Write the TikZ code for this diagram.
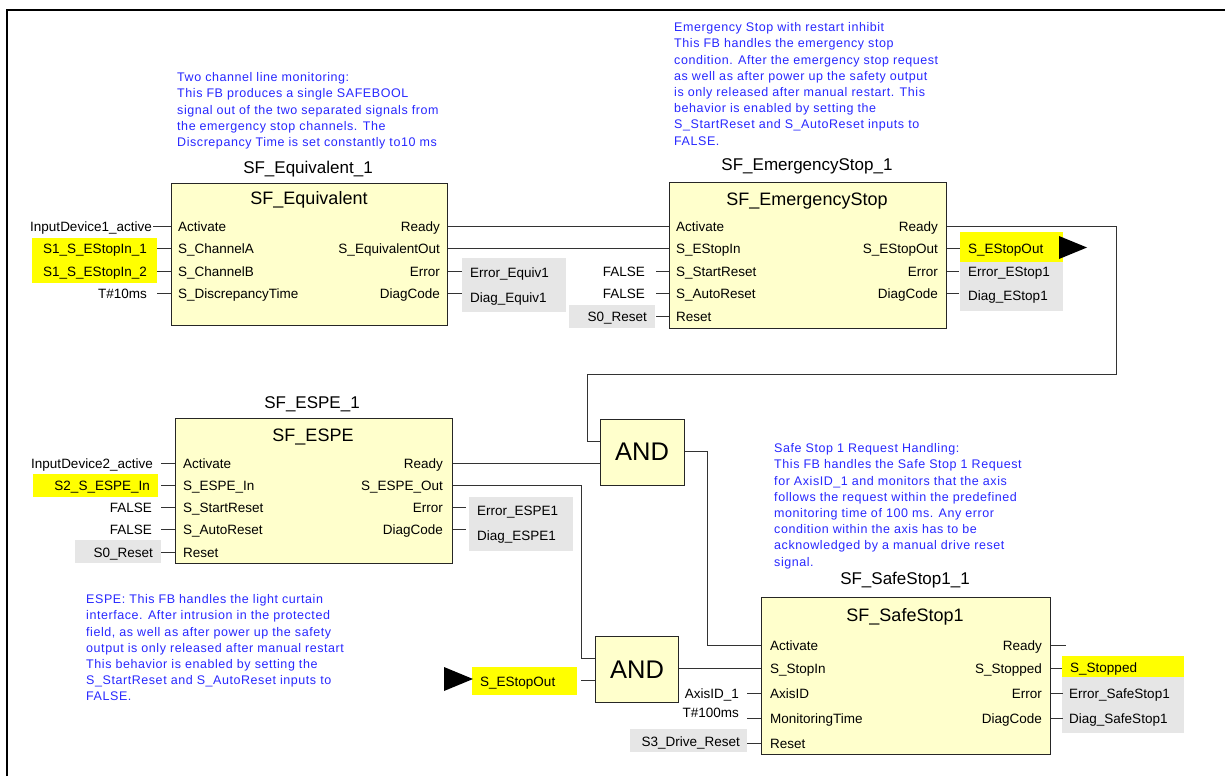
\documentclass[tikz,border=0pt]{standalone}
\usepackage{fontspec}
\setmainfont{Liberation Sans}
\newfontfamily\cmtfont[LetterSpace=4.5]{Liberation Sans}
\definecolor{fbfill}{HTML}{FFFFCC}
\definecolor{hiyel}{HTML}{FFFF00}
\definecolor{higray}{HTML}{E6E6E6}
\definecolor{cmtblue}{RGB}{40,40,255}
\definecolor{wirec}{HTML}{333333}
\tikzset{
  fbbox/.style={draw=black!85, fill=fbfill, line width=1.3pt, inner sep=0pt, anchor=north west},
  ybox/.style={fill=hiyel, inner sep=0pt, anchor=north west},
  gbox/.style={fill=higray, inner sep=0pt, anchor=north west},
  wire/.style={draw=wirec, line width=1pt},
  frame/.style={draw=black, line width=2.4pt},
  pinl/.style={font=\fontsize{13.5}{16}\selectfont, inner sep=0pt, anchor=base west},
  pinr/.style={font=\fontsize{13.5}{16}\selectfont, inner sep=0pt, anchor=base east},
  title/.style={font=\fontsize{18}{20}\selectfont, inner sep=0pt, anchor=base},
  inst/.style={font=\fontsize{17}{20}\selectfont, inner sep=0pt, anchor=base},
  andtxt/.style={font=\fontsize{25.5}{28}\selectfont, inner sep=0pt, anchor=base},
  cmt/.style={font=\cmtfont\fontsize{12.5}{16.2}\selectfont, text=cmtblue, align=left, inner sep=0pt, anchor=north west},
  tri/.style={fill=black}
}
\begin{document}
\begin{tikzpicture}[x=1pt,y=-1pt]
\useasboundingbox (0,0) rectangle (1225,776);
% frame
\draw[frame] (7,776) -- (7,10) -- (1225,10);

% comments
\node[cmt] (c1) at (177,72.4) {Two channel line monitoring:\\This FB produces a single SAFEBOOL\\signal out of the two separated signals from\\the emergency stop channels. The\\Discrepancy Time is set constantly to10 ms};
\node[cmt] (c2) at (674,22.4) {Emergency Stop with restart inhibit\\This FB handles the emergency stop\\condition. After the emergency stop request\\as well as after power up the safety output\\is only released after manual restart. This\\behavior is enabled by setting the\\S\_StartReset and S\_AutoReset inputs to\\FALSE.};
\node[cmt] (c3) at (86,594.4) {ESPE: This FB handles the light curtain\\interface. After intrusion in the protected\\field, as well as after power up the safety\\output is only released after manual restart\\This behavior is enabled by setting the\\S\_StartReset and S\_AutoReset inputs to\\FALSE.};
\node[cmt] (c4) at (774,443.4) {Safe Stop 1 Request Handling:\\This FB handles the Safe Stop 1 Request\\for AxisID\_1 and monitors that the axis\\follows the request within the predefined\\monitoring time of 100 ms. Any error\\condition within the axis has to be\\acknowledged by a manual drive reset\\signal.};

% highlight boxes
\node[ybox, minimum width=125pt, minimum height=45pt] (y1) at (32,238) {};
\node[ybox, minimum width=125pt, minimum height=23pt] (y2) at (33,474) {};
\node[ybox, minimum width=103pt, minimum height=30pt] (y3) at (960,232) {};
\node[ybox, minimum width=105pt, minimum height=28pt] (y4) at (472,667) {};
\node[ybox, minimum width=122pt, minimum height=21pt] (y5) at (1062,656) {};
\node[gbox, minimum width=104pt, minimum height=54pt] (g1) at (462,258) {};
\node[gbox, minimum width=86pt, minimum height=23pt] (g2) at (569,305) {};
\node[gbox, minimum width=103pt, minimum height=49pt] (g3) at (960,262) {};
\node[gbox, minimum width=86pt, minimum height=23pt] (g4) at (75,540) {};
\node[gbox, minimum width=104pt, minimum height=54pt] (g5) at (469,497) {};
\node[gbox, minimum width=117pt, minimum height=23pt] (g6) at (630,729) {};
\node[gbox, minimum width=122pt, minimum height=56pt] (g7) at (1062,677) {};

% function blocks
\node[fbbox, minimum width=276pt, minimum height=142pt] (eq) at (171,183) {};
\node[fbbox, minimum width=277pt, minimum height=146pt] (es) at (669,182) {};
\node[fbbox, minimum width=277pt, minimum height=145pt] (espe) at (175,418) {};
\node[fbbox, minimum width=289pt, minimum height=157pt] (ss) at (761,597) {};
\node[fbbox, minimum width=84pt, minimum height=66pt] (and1) at (600,419) {};
\node[fbbox, minimum width=83pt, minimum height=66pt] (and2) at (595,636) {};
\node[andtxt] (and1t) at (642,460) {AND};
\node[andtxt] (and2t) at (637,678) {AND};

% instance names and titles
\node[inst] (eqi) at (308,173) {SF\_Equivalent\_1};
\node[inst] (esi) at (807,170) {SF\_EmergencyStop\_1};
\node[inst] (espei) at (312,408) {SF\_ESPE\_1};
\node[inst] (ssi) at (905,584) {SF\_SafeStop1\_1};
\node[title] (eqt) at (309,204.5) {SF\_Equivalent};
\node[title] (est) at (807,205.5) {SF\_EmergencyStop};
\node[title] (espet) at (313,441.5) {SF\_ESPE};
\node[title] (sst) at (905,621.5) {SF\_SafeStop1};

% SF_Equivalent pins
\node[pinl] (eqp1) at (178,231) {Activate};
\node[pinl] (eqp2) at (178,253.5) {S\_ChannelA};
\node[pinl] (eqp3) at (178,276) {S\_ChannelB};
\node[pinl] (eqp4) at (178,298) {S\_DiscrepancyTime};
\node[pinr] (eqo1) at (440,231) {Ready};
\node[pinr] (eqo2) at (440,253.5) {S\_EquivalentOut};
\node[pinr] (eqo3) at (440,276) {Error};
\node[pinr] (eqo4) at (440,298) {DiagCode};
\node[pinr] (eqv1) at (152,231) {InputDevice1\_active};
\node[pinr] (eqv2) at (147,253.5) {S1\_S\_EStopIn\_1};
\node[pinr] (eqv3) at (147,276) {S1\_S\_EStopIn\_2};
\node[pinr] (eqv4) at (147,298) {T\#10ms};
\node[pinl] (eqv5) at (470,277) {Error\_Equiv1};
\node[pinl] (eqv6) at (470,302) {Diag\_Equiv1};
\draw[wire] (eq.west |- 0,226) -- ++(-18,0);
\draw[wire] (eq.west |- 0,248.5) -- ++(-14,0);
\draw[wire] (eq.west |- 0,271) -- ++(-14,0);
\draw[wire] (eq.west |- 0,293) -- ++(-14,0);
\draw[wire] (eq.east |- 0,271) -- ++(14,0);
\draw[wire] (eq.east |- 0,293) -- ++(14,0);

% SF_EmergencyStop pins
\node[pinl] (esp1) at (676,231) {Activate};
\node[pinl] (esp2) at (676,253.5) {S\_EStopIn};
\node[pinl] (esp3) at (676,276) {S\_StartReset};
\node[pinl] (esp4) at (676,298.5) {S\_AutoReset};
\node[pinl] (esp5) at (676,321) {Reset};
\node[pinr] (eso1) at (938,231) {Ready};
\node[pinr] (eso2) at (938,253.5) {S\_EStopOut};
\node[pinr] (eso3) at (938,276) {Error};
\node[pinr] (eso4) at (938,298.5) {DiagCode};
\node[pinr] (esv3) at (645,276) {FALSE};
\node[pinr] (esv4) at (645,298.5) {FALSE};
\node[pinr] (esv5) at (647,321) {S0\_Reset};
\node[pinl] (esv6) at (968,253) {S\_EStopOut};
\node[pinl] (esv7) at (968,276) {Error\_EStop1};
\node[pinl] (esv8) at (968,300) {Diag\_EStop1};
\draw[wire] (es.west |- 0,271) -- ++(-13,0);
\draw[wire] (es.west |- 0,293.5) -- ++(-13,0);
\draw[wire] (es.west |- 0,316) -- ++(-13,0);
\draw[wire] (es.east |- 0,248.5) -- (y3.west |- 0,248.5);
\draw[wire] (es.east |- 0,271) -- ++(12,0);
\draw[wire] (es.east |- 0,293.5) -- ++(12,0);
\fill[tri] (1059,236) -- (1087,247.5) -- (1059,259) -- cycle;

% connections SF_Equivalent -> SF_EmergencyStop
\draw[wire] (eq.east |- 0,226) -- (es.west |- 0,226);
\draw[wire] (eq.east |- 0,248.5) -- (es.west |- 0,248.5);

% SF_ESPE pins
\node[pinl] (ep1) at (183,468) {Activate};
\node[pinl] (ep2) at (183,490) {S\_ESPE\_In};
\node[pinl] (ep3) at (183,512) {S\_StartReset};
\node[pinl] (ep4) at (183,534) {S\_AutoReset};
\node[pinl] (ep5) at (183,557) {Reset};
\node[pinr] (eo1) at (443,468) {Ready};
\node[pinr] (eo2) at (443,490) {S\_ESPE\_Out};
\node[pinr] (eo3) at (443,512) {Error};
\node[pinr] (eo4) at (443,534) {DiagCode};
\node[pinr] (ev1) at (153,468) {InputDevice2\_active};
\node[pinr] (ev2) at (150,490) {S2\_S\_ESPE\_In};
\node[pinr] (ev3) at (152,512) {FALSE};
\node[pinr] (ev4) at (152,534) {FALSE};
\node[pinr] (ev5) at (153,557) {S0\_Reset};
\node[pinl] (ev6) at (477,515) {Error\_ESPE1};
\node[pinl] (ev7) at (477,540) {Diag\_ESPE1};
\foreach \yy in {463,485,507,529,552} {\draw[wire] (espe.west |- 0,\yy) -- ++(-14,0);}
\draw[wire] (espe.east |- 0,507) -- ++(13,0);
\draw[wire] (espe.east |- 0,529) -- ++(13,0);

% SF_SafeStop1 pins
\node[pinl] (sp1) at (770,650) {Activate};
\node[pinl] (sp2) at (770,673) {S\_StopIn};
\node[pinl] (sp3) at (770,698) {AxisID};
\node[pinl] (sp4) at (770,723) {MonitoringTime};
\node[pinl] (sp5) at (770,748) {Reset};
\node[pinr] (so1) at (1042,650) {Ready};
\node[pinr] (so2) at (1042,673) {S\_Stopped};
\node[pinr] (so3) at (1042,698) {Error};
\node[pinr] (so4) at (1042,723) {DiagCode};
\node[pinr] (sv3) at (739,698) {AxisID\_1};
\node[pinr] (sv4) at (739,717) {T\#100ms};
\node[pinr] (sv5) at (740,746) {S3\_Drive\_Reset};
\node[pinl] (sv6) at (1070,672) {S\_Stopped};
\node[pinl] (sv7) at (1069,698) {Error\_SafeStop1};
\node[pinl] (sv8) at (1069,723) {Diag\_SafeStop1};
\draw[wire] (ss.west |- 0,693) -- ++(-14,0);
\draw[wire] (ss.west |- 0,718) -- ++(-14,0);
\draw[wire] (ss.west |- 0,743) -- ++(-14,0);
\draw[wire] (ss.east |- 0,645) -- ++(15,0);
\draw[wire] (ss.east |- 0,668) -- (y5.west |- 0,668);
\draw[wire] (ss.east |- 0,693) -- ++(12,0);
\draw[wire] (ss.east |- 0,718) -- ++(12,0);

% bottom S_EStopOut connector
\node[pinl] (bv) at (480,686) {S\_EStopOut};
\fill[tri] (444,667) -- (473,679) -- (444,691) -- cycle;

% logic connections
\draw[wire] (es.east |- 0,226) -- (1116,226) |- (587,374) |- (and1.west |- 0,441);
\draw[wire] (espe.east |- 0,463) -- (and1.west |- 0,463);
\draw[wire] (and1.east |- 0,451) -| (707,645.5) -- (ss.west |- 0,645.5);
\draw[wire] (espe.east |- 0,485) -| (581,658) -- (and2.west |- 0,658);
\draw[wire] (581,680) -- (and2.west |- 0,680);
\draw[wire] (and2.east |- 0,668) -- (ss.west |- 0,668);
\end{tikzpicture}
\end{document}
